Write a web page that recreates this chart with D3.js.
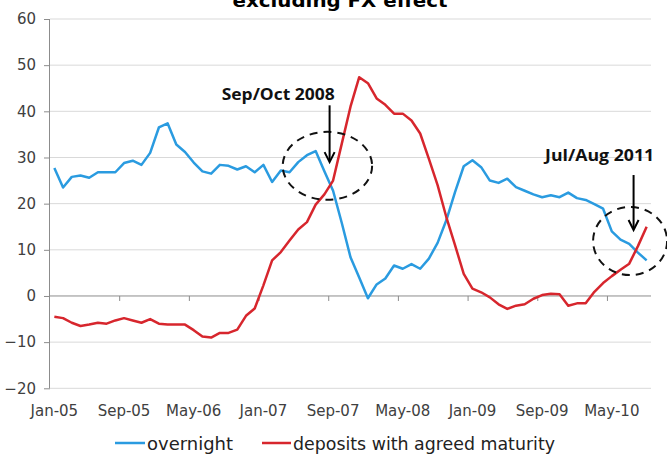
<!DOCTYPE html>
<html>
<head>
<meta charset="utf-8">
<script src="https://cdn.jsdelivr.net/npm/d3@7/dist/d3.min.js"></script>
<style>
  body { margin: 0; background: #ffffff; }
  svg { display: block; }
</style>
</head>
<body>
<svg id="chart" width="667" height="457"></svg>
<script>
// Monthly categories, Jan-05 .. Sep-10
const months = [
  "Jan-05","Feb-05","Mar-05","Apr-05","May-05","Jun-05","Jul-05","Aug-05","Sep-05","Oct-05","Nov-05","Dec-05",
  "Jan-06","Feb-06","Mar-06","Apr-06","May-06","Jun-06","Jul-06","Aug-06","Sep-06","Oct-06","Nov-06","Dec-06",
  "Jan-07","Feb-07","Mar-07","Apr-07","May-07","Jun-07","Jul-07","Aug-07","Sep-07","Oct-07","Nov-07","Dec-07",
  "Jan-08","Feb-08","Mar-08","Apr-08","May-08","Jun-08","Jul-08","Aug-08","Sep-08","Oct-08","Nov-08","Dec-08",
  "Jan-09","Feb-09","Mar-09","Apr-09","May-09","Jun-09","Jul-09","Aug-09","Sep-09","Oct-09","Nov-09","Dec-09",
  "Jan-10","Feb-10","Mar-10","Apr-10","May-10","Jun-10","Jul-10","Aug-10","Sep-10"
];

// Year-on-year growth, %
const overnight = [
  27.7, 23.5, 25.8, 26.1, 25.6, 26.8, 26.8, 26.8, 28.8, 29.3,
  28.4, 31.0, 36.5, 37.4, 32.8, 31.2, 28.9, 27.0, 26.5, 28.4,
  28.2, 27.4, 28.1, 26.8, 28.4, 24.7, 27.2, 26.8, 29.0, 30.5,
  31.4, 27.0, 22.8, 15.8, 8.4, 4.0, -0.5, 2.5, 3.8, 6.6,
  5.9, 6.9, 5.9, 8.1, 11.5, 16.4, 22.5, 28.1, 29.4, 27.9,
  25.0, 24.5, 25.4, 23.6, 22.8, 22.0, 21.4, 21.8, 21.4, 22.4,
  21.2, 20.8, 19.9, 18.9, 14.0, 12.2, 11.3, 9.4, 7.7
];

const agreedMaturity = [
  -4.5, -4.8, -5.8, -6.5, -6.2, -5.8, -6.0, -5.3, -4.8, -5.3,
  -5.8, -5.0, -6.0, -6.2, -6.2, -6.2, -7.4, -8.8, -9.0, -8.0,
  -8.0, -7.3, -4.3, -2.7, 2.3, 7.7, 9.5, 12.0, 14.4, 16.0,
  19.8, 22.0, 25.0, 33.0, 41.0, 47.4, 46.1, 42.8, 41.4, 39.5,
  39.5, 38.0, 35.2, 29.7, 24.0, 17.1, 11.0, 4.8, 1.6, 0.8,
  -0.3, -1.8, -2.8, -2.1, -1.8, -0.6, 0.2, 0.5, 0.4, -2.1,
  -1.6, -1.6, 0.9, 2.8, 4.3, 5.7, 7.0, 10.8, 15.0
];

const xTickLabels = ["Jan-05","Sep-05","May-06","Jan-07","Sep-07","May-08","Jan-09","Sep-09","May-10"];
const yTicks = [-20, -10, 0, 10, 20, 30, 40, 50, 60];

const seriesNames = ["overnight", "deposits with agreed maturity"];
const seriesColors = ["#2a9be0", "#d7262d"];

// Callouts: position given as fractional month index and value
const callouts = [
  { text: "Sep/Oct 2008", textIdx: 25.7, textVal: 42.4, textW: 113,
    arrowIdx: 31.6, arrowFrom: 41.3, arrowTo: 29.0,
    ellIdx: 31.35, ellVal: 28.2, rx: 44.7, ry: 34 },
  { text: "Jul/Aug 2011", textIdx: 62.6, textVal: 29.3, textW: 109,
    arrowIdx: 66.5, arrowFrom: 26.2, arrowTo: 14.3,
    ellIdx: 66.1, ellVal: 11.9, rx: 37, ry: 34 }
];

const svg = d3.select("#chart");
const plotLeft = 50, plotRight = 651, plotTop = 19, plotBottom = 388.3;

const x = d3.scaleBand().domain(months).range([plotLeft, plotRight]).paddingInner(0).paddingOuter(0);
const bw = x.bandwidth();
const cx = m => x(m) + bw / 2;
const xIdx = i => plotLeft + (i + 0.5) * bw;
const y = d3.scaleLinear().domain([-20, 60]).range([plotBottom, plotTop]);

const axisFont = "'DejaVu Sans', Verdana, sans-serif";

// Gridlines
svg.append("g")
  .selectAll("line")
  .data(yTicks.filter(d => d !== 0))
  .join("line")
  .attr("x1", plotLeft).attr("x2", plotRight)
  .attr("y1", d => y(d)).attr("y2", d => y(d))
  .attr("stroke", "#d9d9d9").attr("stroke-width", 1);

// Y axis
const yAxis = svg.append("g")
  .attr("transform", `translate(${plotLeft},0)`)
  .call(d3.axisLeft(y).tickValues(yTicks).tickSize(6).tickPadding(8).tickFormat(d3.format("d")));
yAxis.select(".domain").attr("stroke", "#8c8c8c").attr("d", `M-0.5,${plotTop}V${plotBottom}`);
yAxis.selectAll(".tick line").attr("stroke", "#8c8c8c");
yAxis.selectAll(".tick text")
  .attr("font-family", axisFont).attr("font-size", 15).attr("fill", "#404040");

// Zero line with category tick marks
svg.append("line")
  .attr("x1", plotLeft).attr("x2", plotRight)
  .attr("y1", y(0)).attr("y2", y(0))
  .attr("stroke", "#8c8c8c").attr("stroke-width", 1);

svg.append("g")
  .selectAll("line")
  .data(xTickLabels.slice(1))
  .join("line")
  .attr("x1", d => x(d)).attr("x2", d => x(d))
  .attr("y1", y(0)).attr("y2", y(0) + 5)
  .attr("stroke", "#8c8c8c").attr("stroke-width", 1);

// X labels at the bottom
svg.append("g")
  .selectAll("text")
  .data(xTickLabels)
  .join("text")
  .attr("x", d => cx(d))
  .attr("y", 416)
  .attr("text-anchor", "middle")
  .attr("font-family", axisFont).attr("font-size", 15).attr("fill", "#404040")
  .text(d => d);

// Series lines
const lineGen = d3.line().x((d, i) => cx(months[i])).y(d => y(d));
[overnight, agreedMaturity].forEach((vals, k) => {
  svg.append("path")
    .datum(vals)
    .attr("d", lineGen)
    .attr("fill", "none")
    .attr("stroke", seriesColors[k])
    .attr("stroke-width", 2.5)
    .attr("stroke-linejoin", "round");
});

// Callouts: dashed ellipse, arrow, label
callouts.forEach(c => {
  svg.append("ellipse")
    .attr("cx", xIdx(c.ellIdx)).attr("cy", y(c.ellVal))
    .attr("rx", c.rx).attr("ry", c.ry)
    .attr("fill", "none").attr("stroke", "#111")
    .attr("stroke-width", 2).attr("stroke-dasharray", "8,6");
  const ax = xIdx(c.arrowIdx), y1 = y(c.arrowFrom), y2 = y(c.arrowTo);
  svg.append("line")
    .attr("x1", ax).attr("x2", ax).attr("y1", y1).attr("y2", y2 - 1)
    .attr("stroke", "#000").attr("stroke-width", 2);
  svg.append("path")
    .attr("d", `M${ax - 5},${y2 - 10}L${ax},${y2}L${ax + 5},${y2 - 10}`)
    .attr("fill", "none").attr("stroke", "#000").attr("stroke-width", 2);
  svg.append("text")
    .attr("x", xIdx(c.textIdx)).attr("y", y(c.textVal))
    .attr("text-anchor", "middle")
    .attr("font-family", "'Open Sans', 'DejaVu Sans', sans-serif")
    .attr("font-weight", "bold").attr("font-size", 16).attr("fill", "#111")
    .attr("textLength", c.textW).attr("lengthAdjust", "spacingAndGlyphs")
    .text(c.text);
});

// Title (second line of the heading)
svg.append("text")
  .attr("x", 340).attr("y", 7)
  .attr("text-anchor", "middle")
  .attr("font-family", "'DejaVu Sans', sans-serif")
  .attr("font-weight", "bold").attr("font-size", 18).attr("fill", "#000")
  .attr("textLength", 215).attr("lengthAdjust", "spacingAndGlyphs")
  .text("excluding FX effect");

// Legend
const legendItems = [
  { lx: 115, tx: 147, w: 86 },
  { lx: 262, tx: 293, w: 262 }
];
legendItems.forEach((it, k) => {
  svg.append("line")
    .attr("x1", it.lx).attr("x2", it.tx - 2)
    .attr("y1", 443).attr("y2", 443)
    .attr("stroke", seriesColors[k]).attr("stroke-width", 2.5);
  svg.append("text")
    .attr("x", it.tx).attr("y", 450)
    .attr("font-family", "'DejaVu Sans', Tahoma, sans-serif")
    .attr("font-size", 17.5).attr("fill", "#222")
    .attr("textLength", it.w).attr("lengthAdjust", "spacingAndGlyphs")
    .text(seriesNames[k]);
});
</script>
</body>
</html>
